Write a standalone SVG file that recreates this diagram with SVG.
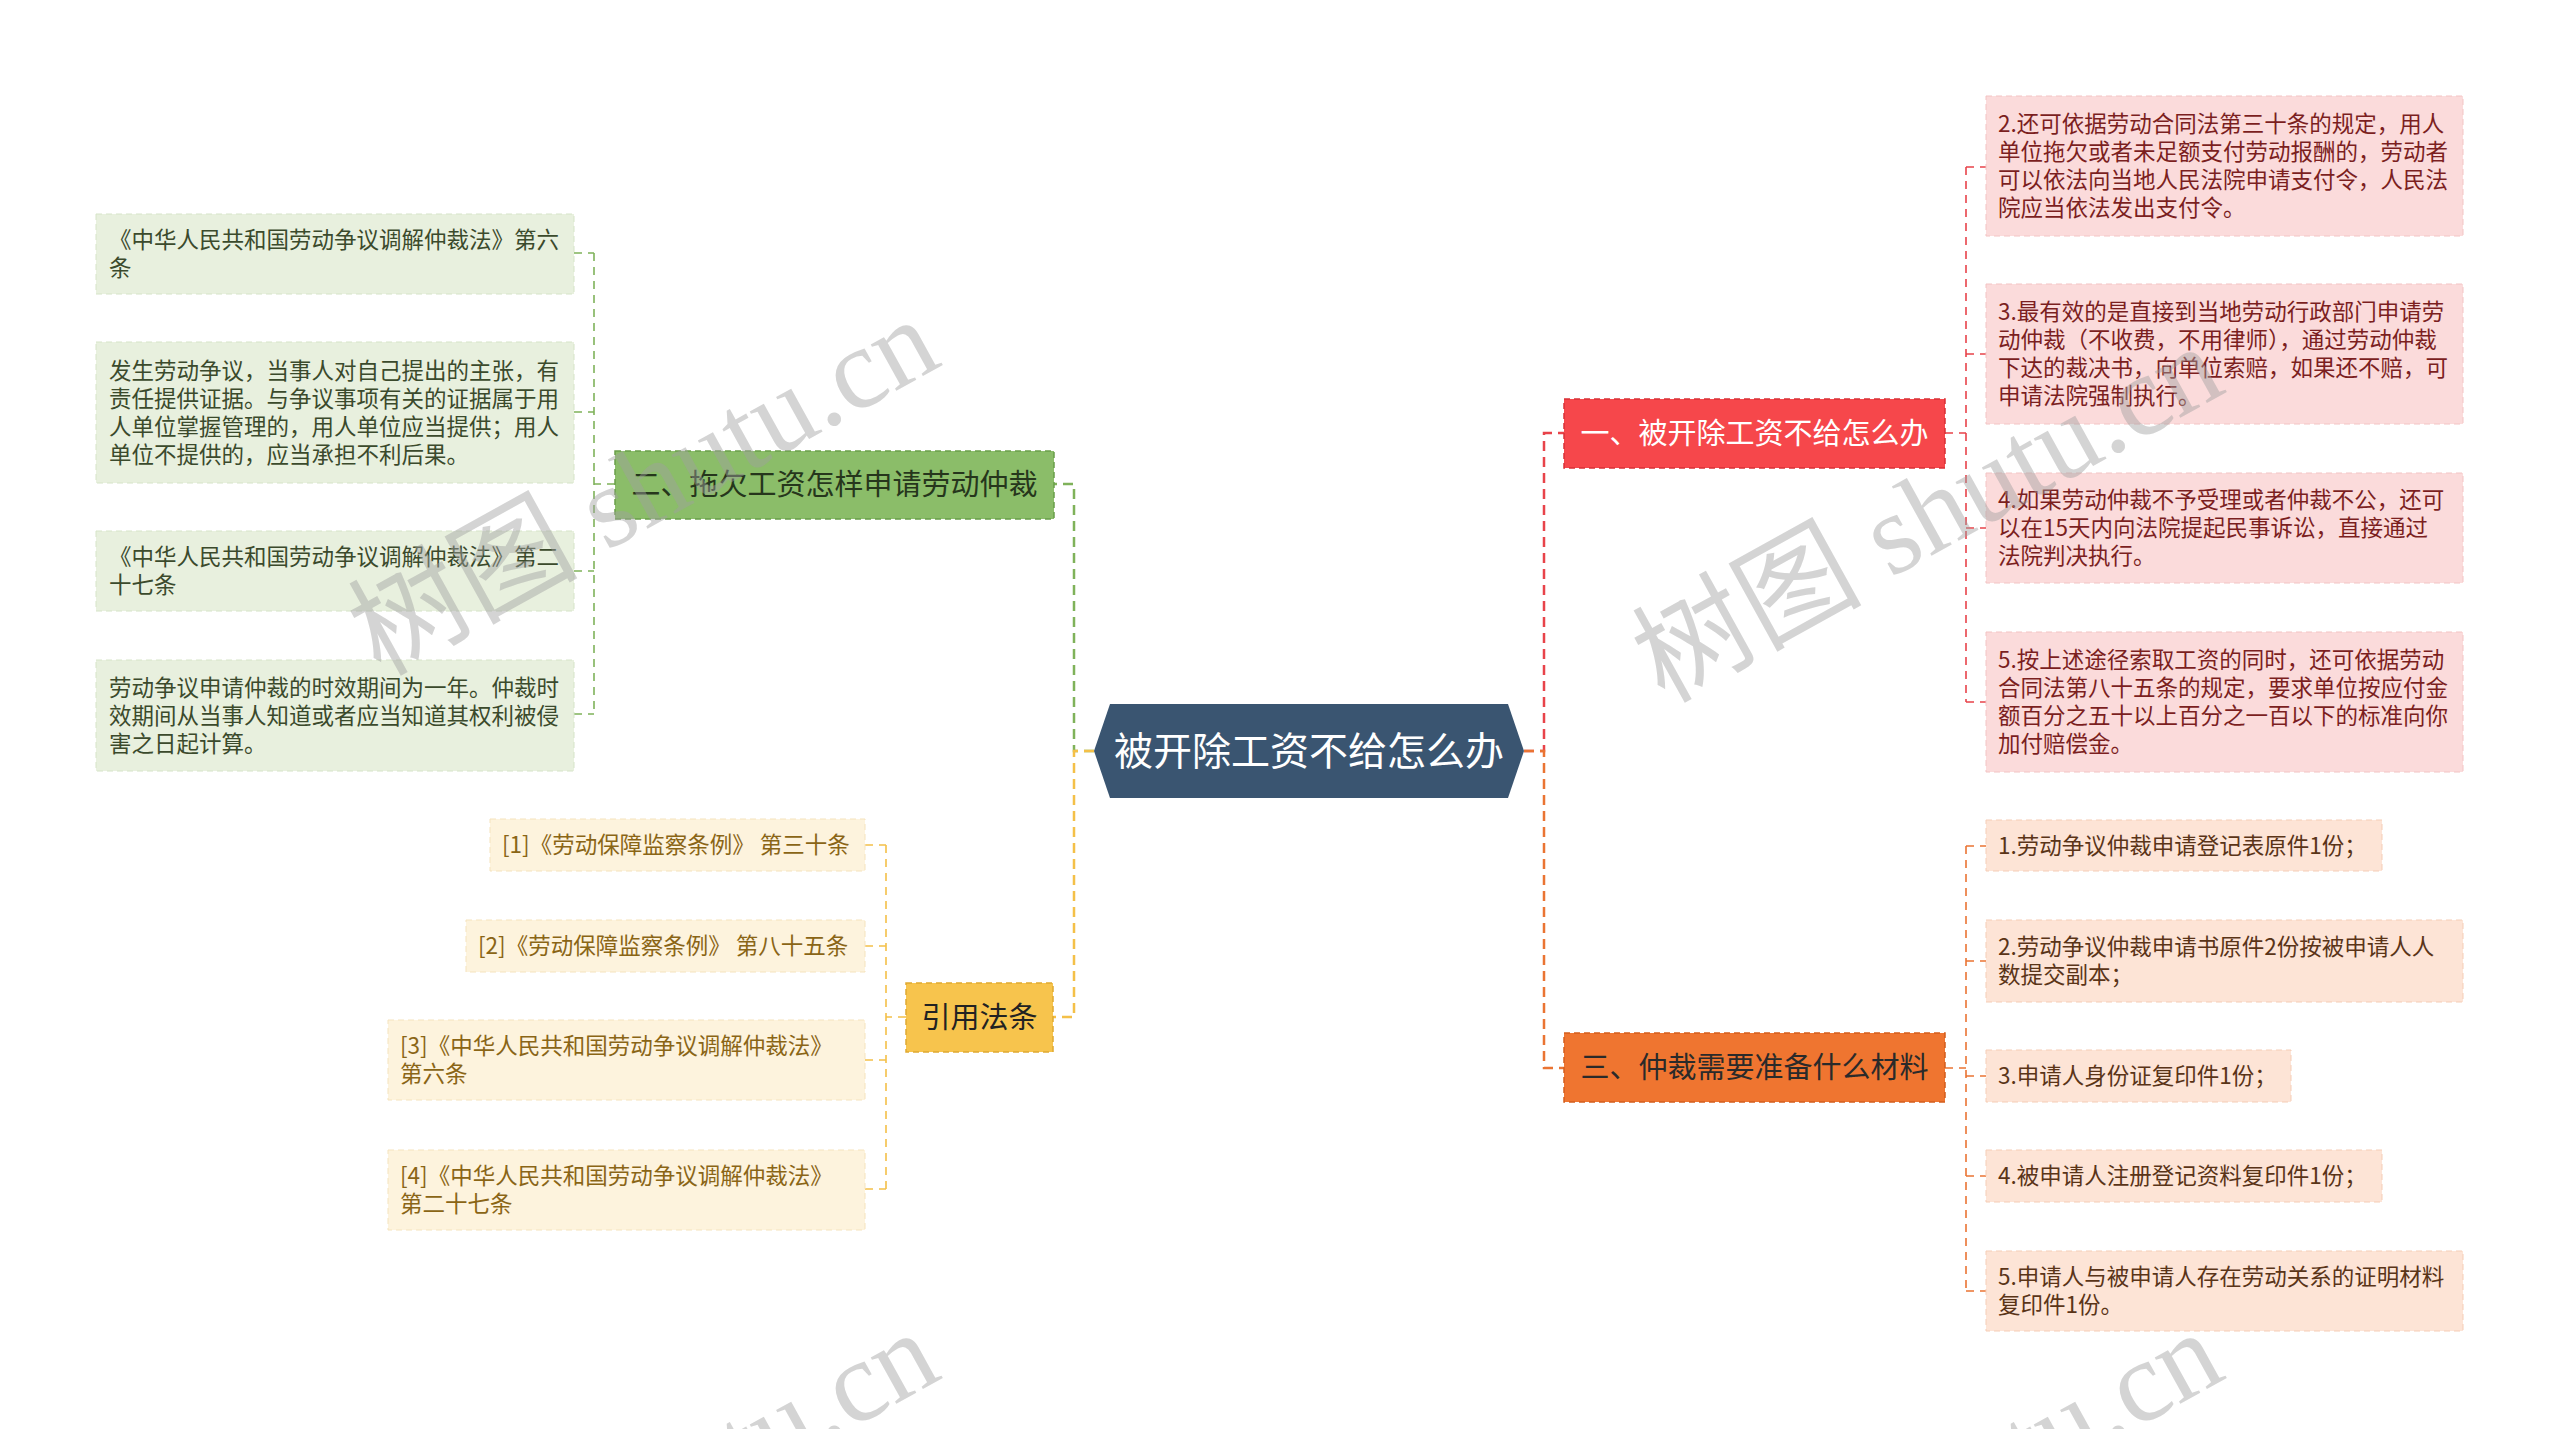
<svg xmlns="http://www.w3.org/2000/svg" width="2560" height="1429" viewBox="0 0 2560 1429">
<style>
text{font-family:"Noto Sans CJK SC","Noto Sans",sans-serif;}
.c{font-size:22.5px;}
.m{font-size:29px;text-anchor:middle;}
.t{font-size:39px;text-anchor:middle;}
.k{fill:none;stroke-dasharray:10 6;stroke-width:2.5;}
.kc{fill:none;stroke-dasharray:8 6;stroke-width:1.6;}
.nb{stroke-dasharray:6 4;stroke-width:1.5;}
.cb{stroke-dasharray:6 4;stroke-width:1;}
.wm{font-family:"Liberation Serif","Noto Sans CJK SC",serif;font-size:115px;fill:#a0a0a0;fill-opacity:0.45;}
</style>
<rect width="2560" height="1429" fill="#ffffff"/>
<g id="connectors">
<path class="k" stroke="#7fb25a" d="M1094,751 H1074 V484 H1054"/>
<path class="k" stroke="#f4c048" d="M1094,751 H1074 V1017 H1053"/>
<path class="k" stroke="#e8434a" d="M1524,751 H1544 V433 H1564"/>
<path class="k" stroke="#ea7433" d="M1524,751 H1544 V1068 H1564"/>
<path class="kc" stroke="#7fb25a" d="M615,484 H594 M594,253 V714 M574,253 H594 M574,412 H594 M574,571 H594 M574,714 H594"/>
<path class="kc" stroke="#f4c048" d="M906,1017 H886 M886,845 V1189 M865,845 H886 M865,946 H886 M865,1060 H886 M865,1189 H886"/>
<path class="kc" stroke="#e8434a" d="M1945,433 H1966 M1966,167 V702 M1966,167 H1986 M1966,354 H1986 M1966,528 H1986 M1966,702 H1986"/>
<path class="kc" stroke="#ea7433" d="M1945,1068 H1966 M1966,846 V1291 M1966,846 H1986 M1966,961 H1986 M1966,1076 H1986 M1966,1176 H1986 M1966,1291 H1986"/>
</g>
<g id="root">
<polygon points="1094,751 1110,704 1508,704 1524,751 1508,798 1110,798" fill="#3a5571"/>
<text class="t" x="1309" y="765" fill="#ffffff">被开除工资不给怎么办</text>
</g>
<g id="n1">
<rect class="nb" x="1564" y="399" width="381" height="69" fill="#f6474b" stroke="#d93036"/>
<text class="m" x="1754.5" y="444" fill="#ffffff">一、被开除工资不给怎么办</text>
</g>
<g id="n2">
<rect class="nb" x="615" y="451" width="439" height="68" fill="#8bbd69" stroke="#6a9e4a"/>
<text class="m" x="834.5" y="495" fill="#26361c">二、拖欠工资怎样申请劳动仲裁</text>
</g>
<g id="n3">
<rect class="nb" x="906" y="983" width="147" height="69" fill="#f7c44d" stroke="#e0a930"/>
<text class="m" x="979.5" y="1028" fill="#222222">引用法条</text>
</g>
<g id="n4">
<rect class="nb" x="1564" y="1033" width="381" height="69" fill="#ef7530" stroke="#d35e1c"/>
<text class="m" x="1754.5" y="1078" fill="#2a2a2a">三、仲裁需要准备什么材料</text>
</g>
<g id="g1">
<rect class="cb" x="96" y="214" width="478" height="80" fill="#e8f0de" stroke="#d6e4c8"/>
<text class="c" fill="#3b4a2c"><tspan x="109" y="248">《中华人民共和国劳动争议调解仲裁法》第六</tspan><tspan x="109" y="276">条</tspan></text>
</g>
<g id="g2">
<rect class="cb" x="96" y="342" width="478" height="141" fill="#e8f0de" stroke="#d6e4c8"/>
<text class="c" fill="#3b4a2c"><tspan x="109" y="379">发生劳动争议，当事人对自己提出的主张，有</tspan><tspan x="109" y="407">责任提供证据。与争议事项有关的证据属于用</tspan><tspan x="109" y="435">人单位掌握管理的，用人单位应当提供；用人</tspan><tspan x="109" y="463">单位不提供的，应当承担不利后果。</tspan></text>
</g>
<g id="g3">
<rect class="cb" x="96" y="531" width="478" height="80" fill="#e8f0de" stroke="#d6e4c8"/>
<text class="c" fill="#3b4a2c"><tspan x="109" y="565">《中华人民共和国劳动争议调解仲裁法》第二</tspan><tspan x="109" y="593">十七条</tspan></text>
</g>
<g id="g4">
<rect class="cb" x="96" y="660" width="478" height="111" fill="#e8f0de" stroke="#d6e4c8"/>
<text class="c" fill="#3b4a2c"><tspan x="109" y="696">劳动争议申请仲裁的时效期间为一年。仲裁时</tspan><tspan x="109" y="724">效期间从当事人知道或者应当知道其权利被侵</tspan><tspan x="109" y="752">害之日起计算。</tspan></text>
</g>
<g id="y1">
<rect class="cb" x="490" y="819" width="375" height="52" fill="#fdf3dd" stroke="#f5e3bd"/>
<text class="c" x="502" y="853" fill="#8a6516">[1]《劳动保障监察条例》 第三十条</text>
</g>
<g id="y2">
<rect class="cb" x="466" y="920" width="399" height="52" fill="#fdf3dd" stroke="#f5e3bd"/>
<text class="c" x="478" y="954" fill="#8a6516">[2]《劳动保障监察条例》 第八十五条</text>
</g>
<g id="y3">
<rect class="cb" x="388" y="1020" width="477" height="80" fill="#fdf3dd" stroke="#f5e3bd"/>
<text class="c" fill="#8a6516"><tspan x="400" y="1054">[3]《中华人民共和国劳动争议调解仲裁法》</tspan><tspan x="400" y="1082">第六条</tspan></text>
</g>
<g id="y4">
<rect class="cb" x="388" y="1150" width="477" height="80" fill="#fdf3dd" stroke="#f5e3bd"/>
<text class="c" fill="#8a6516"><tspan x="400" y="1184">[4]《中华人民共和国劳动争议调解仲裁法》</tspan><tspan x="400" y="1212">第二十七条</tspan></text>
</g>
<g id="r1">
<rect class="cb" x="1986" y="96" width="477" height="140" fill="#fbdbdb" stroke="#f3c4c4"/>
<text class="c" fill="#7b1f1f"><tspan x="1998" y="132">2.还可依据劳动合同法第三十条的规定，用人</tspan><tspan x="1998" y="160">单位拖欠或者未足额支付劳动报酬的，劳动者</tspan><tspan x="1998" y="188">可以依法向当地人民法院申请支付令，人民法</tspan><tspan x="1998" y="216">院应当依法发出支付令。</tspan></text>
</g>
<g id="r2">
<rect class="cb" x="1986" y="284" width="477" height="140" fill="#fbdbdb" stroke="#f3c4c4"/>
<text class="c" fill="#7b1f1f"><tspan x="1998" y="320">3.最有效的是直接到当地劳动行政部门申请劳</tspan><tspan x="1998" y="348">动仲裁（不收费，不用律师），通过劳动仲裁</tspan><tspan x="1998" y="376">下达的裁决书，向单位索赔，如果还不赔，可</tspan><tspan x="1998" y="404">申请法院强制执行。</tspan></text>
</g>
<g id="r3">
<rect class="cb" x="1986" y="473" width="477" height="110" fill="#fbdbdb" stroke="#f3c4c4"/>
<text class="c" fill="#7b1f1f"><tspan x="1998" y="508">4.如果劳动仲裁不予受理或者仲裁不公，还可</tspan><tspan x="1998" y="536">以在15天内向法院提起民事诉讼，直接通过</tspan><tspan x="1998" y="564">法院判决执行。</tspan></text>
</g>
<g id="r4">
<rect class="cb" x="1986" y="632" width="477" height="140" fill="#fbdbdb" stroke="#f3c4c4"/>
<text class="c" fill="#7b1f1f"><tspan x="1998" y="668">5.按上述途径索取工资的同时，还可依据劳动</tspan><tspan x="1998" y="696">合同法第八十五条的规定，要求单位按应付金</tspan><tspan x="1998" y="724">额百分之五十以上百分之一百以下的标准向你</tspan><tspan x="1998" y="752">加付赔偿金。</tspan></text>
</g>
<g id="o1">
<rect class="cb" x="1986" y="820" width="396" height="51" fill="#fde4d6" stroke="#f5cdb6"/>
<text class="c" x="1998" y="854" fill="#5a3418">1.劳动争议仲裁申请登记表原件1份；</text>
</g>
<g id="o2">
<rect class="cb" x="1986" y="920" width="477" height="82" fill="#fde4d6" stroke="#f5cdb6"/>
<text class="c" fill="#5a3418"><tspan x="1998" y="955">2.劳动争议仲裁申请书原件2份按被申请人人</tspan><tspan x="1998" y="983">数提交副本；</tspan></text>
</g>
<g id="o3">
<rect class="cb" x="1986" y="1050" width="305" height="52" fill="#fde4d6" stroke="#f5cdb6"/>
<text class="c" x="1998" y="1084" fill="#5a3418">3.申请人身份证复印件1份；</text>
</g>
<g id="o4">
<rect class="cb" x="1986" y="1150" width="396" height="52" fill="#fde4d6" stroke="#f5cdb6"/>
<text class="c" x="1998" y="1184" fill="#5a3418">4.被申请人注册登记资料复印件1份；</text>
</g>
<g id="o5">
<rect class="cb" x="1986" y="1251" width="477" height="80" fill="#fde4d6" stroke="#f5cdb6"/>
<text class="c" fill="#5a3418"><tspan x="1998" y="1285">5.申请人与被申请人存在劳动关系的证明材料</tspan><tspan x="1998" y="1313">复印件1份。</tspan></text>
</g>
<g id="watermark">
<text class="wm" x="380" y="677" transform="rotate(-29 380 677)">树图 shutu.cn</text>
<text class="wm" x="1664" y="704" transform="rotate(-29 1664 704)">树图 shutu.cn</text>
<text class="wm" x="380" y="1690" transform="rotate(-29 380 1690)">树图 shutu.cn</text>
<text class="wm" x="1664" y="1690" transform="rotate(-29 1664 1690)">树图 shutu.cn</text>
</g>
</svg>
